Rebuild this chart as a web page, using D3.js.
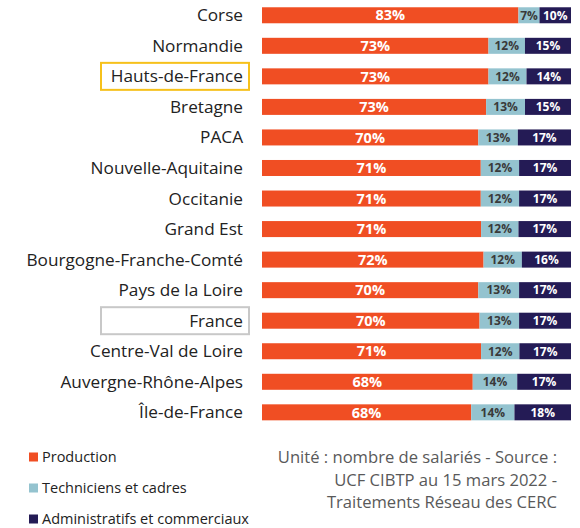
<!DOCTYPE html>
<html><head><meta charset="utf-8">
<script src="https://cdn.jsdelivr.net/npm/d3@7"></script>
<style>
html,body{margin:0;padding:0;background:#fff;}
svg{display:block;font-family:"Open Sans",sans-serif;}
</style></head>
<body>
<svg id="chart" width="580" height="528"></svg>
<script>
const categories = ["Corse","Normandie","Hauts-de-France","Bretagne","PACA","Nouvelle-Aquitaine","Occitanie","Grand Est","Bourgogne-Franche-Comté","Pays de la Loire","France","Centre-Val de Loire","Auvergne-Rhône-Alpes","Île-de-France"];
const production = [83.0,73.3,73.3,72.6,70.0,70.8,70.8,70.9,71.7,70.0,70.4,70.9,68.2,67.7];
const techniciens = [6.8,11.8,12.3,12.6,12.8,12.4,12.4,12.1,12.4,13.2,12.8,12.4,14.4,14.0];
const administratifs = [10.2,14.9,14.4,14.9,17.2,16.8,16.8,17.0,15.9,16.8,16.8,16.7,17.4,18.3];
const seriesNames = ["Production","Techniciens et cadres","Administratifs et commerciaux"];
const colors = ["#f04e23","#94c3cf","#241b55"];
const labelColors = ["#ffffff","#3a3a3a","#ffffff"];
const highlights = {"Hauts-de-France":"#f6c11b","France":"#c8c8c8"};
const sourceLines = ["Unité : nombre de salariés - Source :","UCF CIBTP au 15 mars 2022 -","Traitements Réseau des CERC"];

const rows = categories.map((c,i)=>({cat:c,p:production[i],t:techniciens[i],a:administratifs[i]}));
const keys = ["p","t","a"];
const stack = d3.stack().keys(keys).offset(d3.stackOffsetExpand);
const layers = stack(rows);

const svg = d3.select("#chart");
const x = d3.scaleLinear().domain([0,1]).range([262,571]);
const y = d3.scaleBand().domain(categories).range([0,427.6]).paddingInner(0.476).paddingOuter(0.238);

// highlight boxes
categories.forEach(c=>{
  if(highlights[c]){
    svg.append("rect").attr("x",101).attr("y",y(c)+y.bandwidth()/2-13.5)
      .attr("width",148).attr("height",27).attr("fill","none")
      .attr("stroke",highlights[c]).attr("stroke-width",2);
  }
});

// category labels
svg.append("g").selectAll("text").data(categories).join("text")
  .attr("x",243).attr("y",d=>y(d)+y.bandwidth()/2)
  .attr("dy","0.35em").attr("text-anchor","end")
  .attr("font-size",17.2).attr("fill","#222").text(d=>d);

// bars
const g = svg.append("g");
layers.forEach((layer,li)=>{
  g.append("g").selectAll("rect").data(layer).join("rect")
    .attr("x",d=>x(d[0])).attr("y",d=>y(d.data.cat))
    .attr("width",d=>x(d[1])-x(d[0])).attr("height",y.bandwidth())
    .attr("fill",colors[li]);
  g.append("g").selectAll("text").data(layer).join("text")
    .attr("x",d=>(x(d[0])+x(d[1]))/2)
    .attr("y",d=>y(d.data.cat)+y.bandwidth()/2)
    .attr("dy","0.36em").attr("text-anchor","middle")
    .attr("font-weight","bold").attr("font-size",li===0?14.5:12)
    .attr("fill",labelColors[li])
    .text(d=>Math.round(d.data[keys[li]])+"%");
});

// legend
const legY = [457,488,519];
const leg = svg.append("g");
seriesNames.forEach((s,i)=>{
  leg.append("rect").attr("x",29).attr("y",legY[i]-4.5).attr("width",9).attr("height",9).attr("fill",colors[i]);
  leg.append("text").attr("x",42).attr("y",legY[i]).attr("dy","0.35em")
    .attr("font-size",14.5).attr("fill","#222").text(s);
});

// source
const srcY = [457,480,502];
sourceLines.forEach((s,i)=>{
  svg.append("text").attr("x",557).attr("y",srcY[i]).attr("dy","0.35em")
    .attr("text-anchor","end").attr("font-size",16.6).attr("fill","#595959").text(s);
});
</script>
</body></html>
